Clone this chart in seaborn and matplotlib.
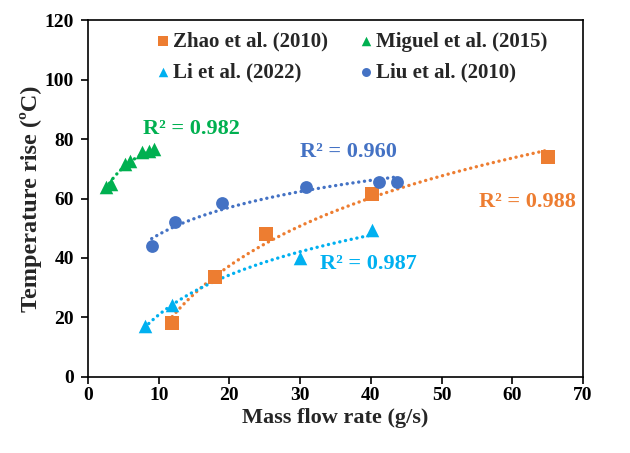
import numpy as np
import pandas as pd
import matplotlib
matplotlib.use("Agg")
import matplotlib.pyplot as plt
import seaborn as sns

# ---- data ----
zhao_x = [11.9, 18.0, 25.1, 40.1, 65.0]
zhao_y = [18.3, 33.7, 48.0, 61.6, 74.0]

miguel_x = [2.6, 3.3, 5.3, 6.0, 7.6, 8.6, 9.4]
miguel_y = [64.0, 65.0, 71.5, 72.5, 75.5, 76.0, 76.6]

li_x = [8.0, 11.9, 30.0, 40.1]
li_y = [17.0, 24.2, 40.1, 49.4]

liu_x = [9.0, 12.3, 18.9, 30.8, 41.1, 43.7]
liu_y = [44.0, 52.0, 58.4, 64.0, 65.7, 65.7]

labels = ["Zhao et al. (2010)", "Miguel et al. (2015)", "Li et al. (2022)", "Liu et al. (2010)"]
r2_text = ["R² = 0.988", "R² = 0.982", "R² = 0.987", "R² = 0.960"]
r2_pos = [(55.3, 58.8), (7.8, 83.2), (32.8, 38.0), (30.0, 75.6)]

x_ticks = [0, 10, 20, 30, 40, 50, 60, 70]
y_ticks = [0, 20, 40, 60, 80, 100, 120]

colors = ["#ED7D31", "#00B050", "#00B0F0", "#4472C4"]
markers = ["s", "^", "^", "o"]
sizes = [100, 95, 95, 85]

sns.set_style("ticks")
plt.rcParams["font.family"] = ["Liberation Serif", "DejaVu Serif"]
plt.rcParams["font.weight"] = "bold"

fig = plt.figure(figsize=(6.3, 4.53), dpi=100)
ax = fig.add_axes([0.1397, 0.1678, 0.7857, 0.7880])

series = [(zhao_x, zhao_y), (miguel_x, miguel_y), (li_x, li_y), (liu_x, liu_y)]
for (xs, ys), lab, c, m, s in zip(series, labels, colors, markers, sizes):
    df = pd.DataFrame({"x": xs, "y": ys})
    # logarithmic trendline
    a, b = np.polyfit(np.log(df["x"]), df["y"], 1)
    xf = np.linspace(min(xs), max(xs), 300)
    fit = pd.DataFrame({"x": xf, "y": a * np.log(xf) + b})
    sns.lineplot(data=fit, x="x", y="y", ax=ax, color=c, linestyle=(0, (0.05, 1.7)),
                 linewidth=2.4, dash_capstyle="round", legend=False)
    sns.scatterplot(data=df, x="x", y="y", ax=ax, color=c, marker=m, s=s,
                    edgecolor=c, linewidth=0, zorder=3, label=lab)

for txt, (tx, ty), c in zip(r2_text, r2_pos, colors):
    ax.text(tx, ty, txt, color=c, fontsize=16, fontweight="bold", va="center", ha="left")

ax.set_xlim(0, 70)
ax.set_ylim(0, 120)
ax.set_xticks(x_ticks)
ax.set_yticks(y_ticks)
ax.tick_params(direction="out", length=5, width=1.2, labelsize=14, colors="black", pad=5)
ax.tick_params(axis="x", pad=2)
for lbl in ax.get_xticklabels() + ax.get_yticklabels():
    lbl.set_fontweight("bold")
for sp in ax.spines.values():
    sp.set_visible(True)
    sp.set_linewidth(1.2)
    sp.set_color("black")

ax.set_xlabel("Mass flow rate (g/s)", fontsize=16, fontweight="bold", labelpad=3)
ax.set_ylabel("Temperature rise (ºC)", fontsize=17.5, fontweight="bold", labelpad=2)

h, l = ax.get_legend_handles_labels()
order = [0, 2, 1, 3]
ax.legend([h[i] for i in order], [l[i] for i in order], ncol=2, loc="upper center",
          bbox_to_anchor=(0.53, 1.02), frameon=False,
          prop={"weight": "bold", "size": 15}, markerscale=0.7,
          handletextpad=0.05, columnspacing=1.35, labelspacing=0.5, handlelength=0.9)

fig.savefig("out.png", dpi=100)
